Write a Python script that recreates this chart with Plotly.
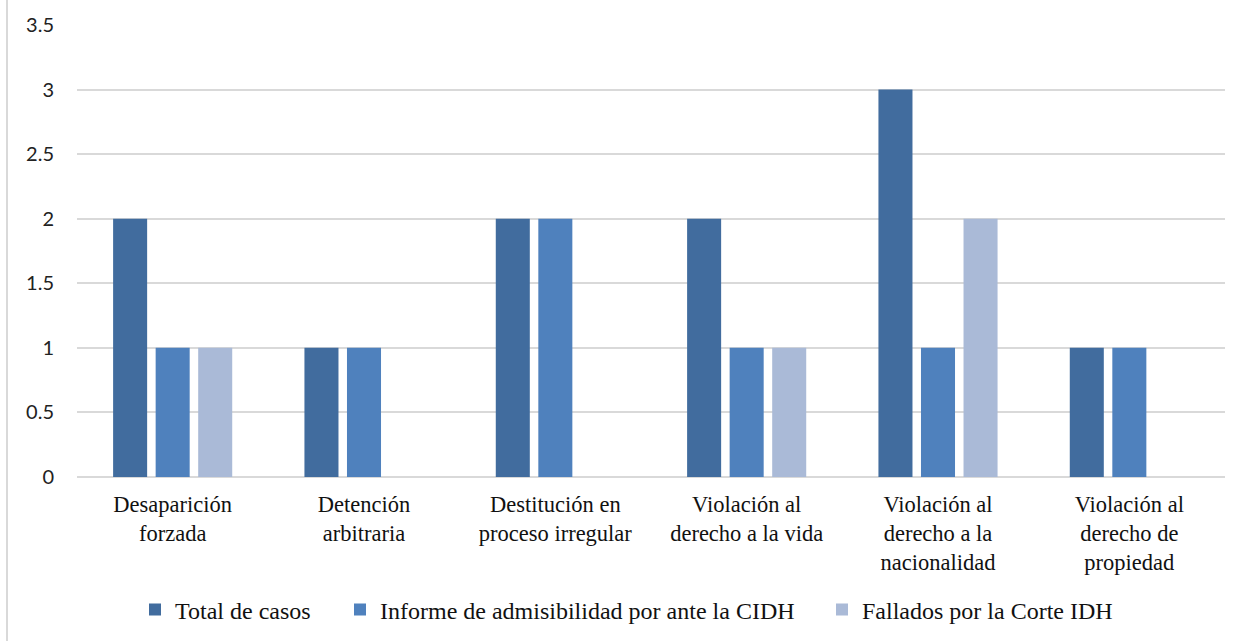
import plotly.graph_objects as go

categories = [
    "Desaparición<br>forzada",
    "Detención<br>arbitraria",
    "Destitución en<br>proceso irregular",
    "Violación al<br>derecho a la vida",
    "Violación al<br>derecho a la<br>nacionalidad",
    "Violación al<br>derecho de<br>propiedad",
]
series_names = [
    "Total de casos",
    "Informe de admisibilidad por ante la CIDH",
    "Fallados por la Corte IDH",
]
total_casos = [2, 1, 2, 2, 3, 1]
informe_cidh = [1, 1, 2, 1, 1, 1]
fallados_corte = [1, None, None, 1, 2, None]
y_ticks = [0, 0.5, 1, 1.5, 2, 2.5, 3, 3.5]
y_tick_labels = ["0", "0.5", "1", "1.5", "2", "2.5", "3", "3.5"]

colors = ["#416C9E", "#4F81BD", "#AABAD7"]
legend_ids = ["legend", "legend2", "legend3"]
legend_left_px = [135, 340, 822]

fig = go.Figure()
for name, vals, col, lg in zip(series_names, [total_casos, informe_cidh, fallados_corte], colors, legend_ids):
    fig.add_trace(go.Bar(
        x=categories, y=vals, name=name, legend=lg,
        marker=dict(color=col, line=dict(width=0)),
    ))

legend_common = dict(
    orientation="h", xref="container", xanchor="left",
    yref="container", y=(641 - 610) / 641, yanchor="middle",
    font=dict(family="Liberation Serif", size=24, color="#111111"),
    itemwidth=30, bgcolor="rgba(0,0,0,0)",
)

fig.update_layout(
    width=1244, height=641,
    margin=dict(l=77, r=19, t=25, b=164, autoexpand=False),
    paper_bgcolor="white", plot_bgcolor="white",
    barmode="group", bargap=0.333, bargroupgap=0.2,
    showlegend=True,
    legend=dict(x=legend_left_px[0] / 1244, **legend_common),
    legend2=dict(x=legend_left_px[1] / 1244, **legend_common),
    legend3=dict(x=legend_left_px[2] / 1244, **legend_common),
    xaxis=dict(
        tickfont=dict(family="Liberation Serif", size=22.5, color="#111111"),
        showgrid=False, showline=False, ticks="", ticklabelstandoff=11,
        automargin=False,
    ),
    yaxis=dict(
        range=[0, 3.5], tickvals=y_ticks, ticktext=y_tick_labels,
        tickfont=dict(family="Lato", size=20, color="#222222"),
        showgrid=True, gridcolor="#D9D9D9", gridwidth=1.5,
        zeroline=True, zerolinecolor="#D9D9D9", zerolinewidth=1.5,
        ticks="", ticklabelstandoff=22, automargin=False,
    ),
    shapes=[dict(
        type="line", xref="paper", yref="paper",
        x0=(7 - 77) / 1148, x1=(7 - 77) / 1148, y0=-164 / 452, y1=25 / 452 + 1,
        line=dict(color="#D9D9D9", width=2),
    )],
)

fig.write_html("out.html", config={"displayModeBar": False},
               post_script="document.body.style.margin='0';")
